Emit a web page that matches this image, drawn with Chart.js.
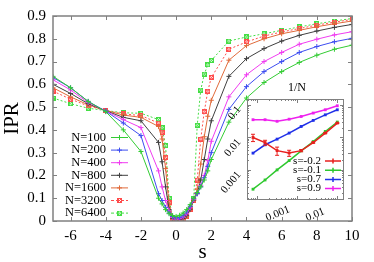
<!DOCTYPE html>
<html>
<head>
<meta charset="utf-8">
<script src="https://cdn.jsdelivr.net/npm/chart.js@4.4.1/dist/chart.umd.min.js"></script>
<style>
  html, body { margin: 0; padding: 0; background: #fff; }
  #wrap { position: relative; width: 374px; height: 262px; }
  #main { position: absolute; left: 0; top: 0; }
  #inset { position: absolute; left: 200px; top: 70px; }
</style>
</head>
<body>
<div id="wrap">
  <canvas id="main" width="374" height="262"></canvas>
  <canvas id="inset" width="174" height="160"></canvas>
</div>
<script>
const serif = '"Liberation Serif", "Times New Roman", serif';

// main plot: IPR against s for several N
const sGrid = [-7, -6, -5, -4, -3, -2, -1, -0.8, -0.6, -0.4, -0.2, 0, 0.2, 0.4, 0.6, 0.8, 1, 1.2, 1.4, 1.6, 1.8, 2, 3, 4, 5, 6, 7, 8, 9, 10];
const ipr100  = [0.635, 0.585, 0.525, 0.480, 0.400, 0.305, 0.100, 0.075, 0.050, 0.032, 0.024, 0.020, 0.025, 0.035, 0.050, 0.072, 0.100, 0.125, 0.150, 0.180, 0.220, 0.270, 0.434, 0.540, 0.608, 0.656, 0.696, 0.728, 0.754, 0.772];
const ipr200  = [0.630, 0.585, 0.525, 0.482, 0.430, 0.375, 0.120, 0.090, 0.060, 0.035, 0.020, 0.013, 0.016, 0.025, 0.040, 0.065, 0.098, 0.120, 0.150, 0.190, 0.240, 0.300, 0.490, 0.590, 0.656, 0.700, 0.740, 0.766, 0.787, 0.802];
const ipr400  = [0.620, 0.575, 0.520, 0.483, 0.445, 0.410, 0.220, 0.150, 0.090, 0.045, 0.016, 0.008, 0.010, 0.017, 0.032, 0.058, 0.095, 0.120, 0.155, 0.200, 0.265, 0.350, 0.545, 0.642, 0.700, 0.740, 0.776, 0.798, 0.817, 0.831];
const ipr800  = [0.600, 0.560, 0.515, 0.484, 0.455, 0.440, 0.345, 0.260, 0.150, 0.050, 0.012, 0.005, 0.006, 0.011, 0.025, 0.052, 0.092, 0.120, 0.180, 0.270, 0.360, 0.440, 0.635, 0.713, 0.757, 0.790, 0.815, 0.834, 0.850, 0.863];
const ipr1600 = [0.585, 0.545, 0.510, 0.485, 0.465, 0.455, 0.415, 0.360, 0.230, 0.070, 0.010, 0.004, 0.004, 0.008, 0.020, 0.050, 0.090, 0.140, 0.250, 0.370, 0.460, 0.530, 0.706, 0.770, 0.800, 0.822, 0.837, 0.853, 0.866, 0.878];
const ipr3200 = [0.570, 0.535, 0.505, 0.485, 0.470, 0.463, 0.430, 0.390, 0.280, 0.080, 0.010, 0.003, 0.003, 0.006, 0.018, 0.050, 0.090, 0.180, 0.360, 0.480, 0.570, 0.630, 0.754, 0.786, 0.812, 0.830, 0.845, 0.860, 0.873, 0.885];
const ipr6400 = [0.540, 0.515, 0.495, 0.485, 0.475, 0.473, 0.445, 0.410, 0.330, 0.100, 0.010, 0.003, 0.003, 0.005, 0.020, 0.055, 0.100, 0.420, 0.575, 0.645, 0.685, 0.705, 0.790, 0.808, 0.822, 0.837, 0.852, 0.866, 0.878, 0.889];

const nLabels = ['N=100', 'N=200', 'N=400', 'N=800', 'N=1600', 'N=3200', 'N=6400'];
const nSeries = [ipr100, ipr200, ipr400, ipr800, ipr1600, ipr3200, ipr6400];
const nColors = ['#33cc33', '#3d4df0', '#f03cf0', '#404040', '#e06a3a', '#ff4d4d', '#44dd44'];
const nDashed = [false, false, false, false, false, true, true];

const xTickVals = [-6, -4, -2, 0, 2, 4, 6, 8, 10];

// inset: IPR against 1/N at fixed s, log-log
const invN = [7.8125e-5, 1.5625e-4, 3.125e-4, 6.25e-4, 1.25e-3, 2.5e-3, 5e-3, 1e-2];
const iprSm02 = [0.0099, 0.0069, 0.0039, 0.0033, 0.0039, 0.0069, 0.0135, 0.0274];
const errSm02 = [0.0025, 0.0012, 0.0011, 0.0007, 0.0003, 0.0003, 0.0005, 0.0008];
const iprSm01 = [0.000255, 0.00049, 0.0010, 0.00193, 0.00385, 0.0074, 0.0151, 0.0294];
const iprS07  = [0.00327, 0.0059, 0.0088, 0.0135, 0.0215, 0.033, 0.049, 0.070];
const iprS09  = [0.0347, 0.0347, 0.031, 0.036, 0.0436, 0.0555, 0.070, 0.093];

const sLabels = ['s=-0.2', 's=-0.1', 's=0.7', 's=0.9'];
const sSeries = [iprSm02, iprSm01, iprS07, iprS09];
const sColors = ['#e8201e', '#2ec82e', '#2030e8', '#ee20ee'];

const insetXLabels = [0.001, 0.01];
const insetYLabels = [0.1, 0.01, 0.001];

function toPoints(xs, ys) {
  return xs.map((x, i) => ({ x: x, y: ys[i] }));
}

function boxedX(color) {
  const c = document.createElement('canvas');
  c.width = 5; c.height = 5;
  const g = c.getContext('2d');
  g.strokeStyle = color; g.lineWidth = 1;
  g.strokeRect(0.5, 0.5, 4, 4);
  g.beginPath();
  g.moveTo(1, 1); g.lineTo(4, 4);
  g.moveTo(4, 1); g.lineTo(1, 4);
  g.stroke();
  return c;
}

const nMarkers = nColors.map((c, i) => nDashed[i] ? boxedX(c) : 'cross');

function drawPlus(ctx, x, y, r) {
  ctx.beginPath();
  ctx.moveTo(x - r, y); ctx.lineTo(x + r, y);
  ctx.moveTo(x, y - r); ctx.lineTo(x, y + r);
  ctx.stroke();
}

const mainFrame = {
  id: 'mainFrame',
  afterDraw(chart) {
    const ctx = chart.ctx, a = chart.chartArea;
    const xs = chart.scales.x, ys = chart.scales.y;
    ctx.save();
    ctx.strokeStyle = '#808080';
    ctx.lineWidth = 1.5;
    ctx.strokeRect(a.left, a.top, a.right - a.left, a.bottom - a.top);
    ctx.lineWidth = 1;
    ctx.beginPath();
    xs.ticks.forEach(t => {
      const px = Math.round(xs.getPixelForValue(t.value)) + 0.5;
      ctx.moveTo(px, a.bottom); ctx.lineTo(px, a.bottom - 4);
      ctx.moveTo(px, a.top); ctx.lineTo(px, a.top + 4);
    });
    ys.ticks.forEach(t => {
      const py = Math.round(ys.getPixelForValue(t.value)) + 0.5;
      ctx.moveTo(a.left, py); ctx.lineTo(a.left + 4, py);
      ctx.moveTo(a.right, py); ctx.lineTo(a.right - 4, py);
    });
    ctx.stroke();

    // legend, text on the left and sample on the right
    ctx.font = '12.5px ' + serif;
    ctx.textAlign = 'right';
    ctx.textBaseline = 'middle';
    chart.data.datasets.forEach((d, i) => {
      const y = 137.5 + i * 12.6;
      ctx.fillStyle = '#000';
      ctx.fillText(d.label, 106, y);
      ctx.strokeStyle = d.borderColor;
      ctx.lineWidth = 1;
      ctx.setLineDash(nDashed[i] ? [3, 2] : []);
      ctx.beginPath();
      ctx.moveTo(111, y); ctx.lineTo(128, y);
      ctx.stroke();
      ctx.setLineDash([]);
      if (nDashed[i]) ctx.drawImage(nMarkers[i], 117, y - 2.5);
      else drawPlus(ctx, 119.5, y, 2.5);
    });

    // axis titles
    ctx.fillStyle = '#000';
    ctx.font = '21px ' + serif;
    ctx.textAlign = 'center';
    ctx.fillText('s', (a.left + a.right) / 2, 252);
    ctx.translate(12, (a.top + a.bottom) / 2);
    ctx.rotate(-Math.PI / 2);
    ctx.fillText('IPR', 0, 0);
    ctx.restore();
  }
};

new Chart(document.getElementById('main'), {
  type: 'line',
  data: {
    datasets: nSeries.map((ys, i) => ({
      label: nLabels[i],
      data: toPoints(sGrid, ys),
      borderColor: nColors[i],
      backgroundColor: nColors[i],
      borderWidth: 1,
      borderDash: nDashed[i] ? [2, 2] : [],
      pointStyle: nMarkers[i],
      pointRadius: 2.5,
      pointBorderWidth: 1,
      tension: 0
    }))
  },
  options: {
    responsive: false,
    animation: false,
    devicePixelRatio: 1,
    layout: { padding: { left: 0, top: 15, right: 22, bottom: 0 } },
    plugins: { legend: { display: false }, tooltip: { enabled: false } },
    scales: {
      x: {
        type: 'linear', min: -7, max: 10,
        grid: { display: false, drawTicks: false },
        border: { display: false },
        afterBuildTicks: s => { s.ticks = xTickVals.map(v => ({ value: v })); },
        afterFit: s => { s.height = 41; },
        ticks: { padding: 6, color: '#000', font: { family: serif, size: 15 }, callback: v => String(v) }
      },
      y: {
        min: 0, max: 0.9,
        grid: { display: false, drawTicks: false },
        border: { display: false },
        afterFit: s => { s.width = 53; },
        ticks: {
          stepSize: 0.1, padding: 7, color: '#000', font: { family: serif, size: 15 },
          callback: v => v === 0 ? '0' : (Math.round(v * 10) / 10).toFixed(1)
        }
      }
    }
  },
  plugins: [mainFrame]
});

const insetFrame = {
  id: 'insetFrame',
  beforeDraw(chart) {
    const ctx = chart.ctx, a = chart.chartArea;
    ctx.save();
    ctx.fillStyle = '#fff';
    ctx.fillRect(a.left, a.top, a.right - a.left, a.bottom - a.top);
    ctx.restore();
  },
  afterDatasetsDraw(chart) {
    // error bars on s=-0.2
    const ctx = chart.ctx;
    const xs = chart.scales.x, ys = chart.scales.y;
    ctx.save();
    ctx.strokeStyle = sColors[0];
    ctx.lineWidth = 1;
    ctx.beginPath();
    invN.forEach((x, i) => {
      const px = xs.getPixelForValue(x);
      const y1 = ys.getPixelForValue(iprSm02[i] - errSm02[i]);
      const y2 = ys.getPixelForValue(iprSm02[i] + errSm02[i]);
      ctx.moveTo(px, y1); ctx.lineTo(px, y2);
      ctx.moveTo(px - 2, y1); ctx.lineTo(px + 2, y1);
      ctx.moveTo(px - 2, y2); ctx.lineTo(px + 2, y2);
    });
    ctx.stroke();
    ctx.restore();
  },
  afterDraw(chart) {
    const ctx = chart.ctx, a = chart.chartArea;
    const xs = chart.scales.x, ys = chart.scales.y;
    ctx.save();
    ctx.strokeStyle = '#808080';
    ctx.lineWidth = 1;
    ctx.strokeRect(a.left + 0.5, a.top + 0.5, a.right - a.left - 1, a.bottom - a.top - 1);
    ctx.beginPath();
    for (let e = -5; e <= 0; e++) {
      for (let m = 1; m <= 9; m++) {
        const v = m * Math.pow(10, e);
        const len = m === 1 ? 4 : 2;
        if (v > xs.min && v < xs.max) {
          const px = Math.round(xs.getPixelForValue(v)) + 0.5;
          ctx.moveTo(px, a.bottom); ctx.lineTo(px, a.bottom - len);
          ctx.moveTo(px, a.top); ctx.lineTo(px, a.top + len);
        }
        if (v > ys.min && v < ys.max) {
          const py = Math.round(ys.getPixelForValue(v)) + 0.5;
          ctx.moveTo(a.left, py); ctx.lineTo(a.left + len, py);
          ctx.moveTo(a.right, py); ctx.lineTo(a.right - len, py);
        }
      }
    }
    ctx.stroke();

    ctx.fillStyle = '#000';
    ctx.font = '11px ' + serif;
    // x tick labels, slanted
    ctx.textAlign = 'left';
    ctx.textBaseline = 'alphabetic';
    insetXLabels.forEach(v => {
      ctx.save();
      ctx.translate(xs.getPixelForValue(v) - 30, a.bottom + 21);
      ctx.rotate(-22 * Math.PI / 180);
      ctx.fillText(String(v), 0, 0);
      ctx.restore();
    });
    // y tick labels, slanted
    ctx.textAlign = 'right';
    ctx.textBaseline = 'middle';
    insetYLabels.forEach(v => {
      ctx.save();
      ctx.translate(a.left - 8, ys.getPixelForValue(v) + 3);
      ctx.rotate(-50 * Math.PI / 180);
      ctx.fillText(String(v), 0, 0);
      ctx.restore();
    });
    // axis title on top
    ctx.font = '12px ' + serif;
    ctx.textAlign = 'center';
    ctx.fillText('1/N', 97, 18);

    // legend
    ctx.font = '11px ' + serif;
    ctx.textAlign = 'right';
    chart.data.datasets.forEach((d, i) => {
      const y = a.top + 62 + i * 9.2;
      ctx.fillStyle = '#000';
      ctx.fillText(d.label, 121, y);
      ctx.strokeStyle = d.borderColor;
      ctx.lineWidth = 1.5;
      ctx.beginPath();
      ctx.moveTo(125, y); ctx.lineTo(141, y);
      ctx.moveTo(133, y - 2.5); ctx.lineTo(133, y + 2.5);
      ctx.stroke();
    });
    ctx.restore();
  }
};

new Chart(document.getElementById('inset'), {
  type: 'line',
  data: {
    datasets: sSeries.map((ys, i) => ({
      label: sLabels[i],
      data: toPoints(invN, ys),
      borderColor: sColors[i],
      backgroundColor: sColors[i],
      borderWidth: 1.5,
      pointStyle: 'rect',
      pointRadius: 2,
      pointBorderWidth: 0,
      tension: 0
    }))
  },
  options: {
    responsive: false,
    animation: false,
    devicePixelRatio: 1,
    layout: { padding: { left: 47, top: 29, right: 30, bottom: 30 } },
    plugins: { legend: { display: false }, tooltip: { enabled: false } },
    scales: {
      x: { type: 'logarithmic', min: 5.53e-5, max: 0.0147, display: false },
      y: { type: 'logarithmic', min: 1.19e-4, max: 0.15, display: false }
    }
  },
  plugins: [insetFrame]
});
</script>
</body>
</html>
